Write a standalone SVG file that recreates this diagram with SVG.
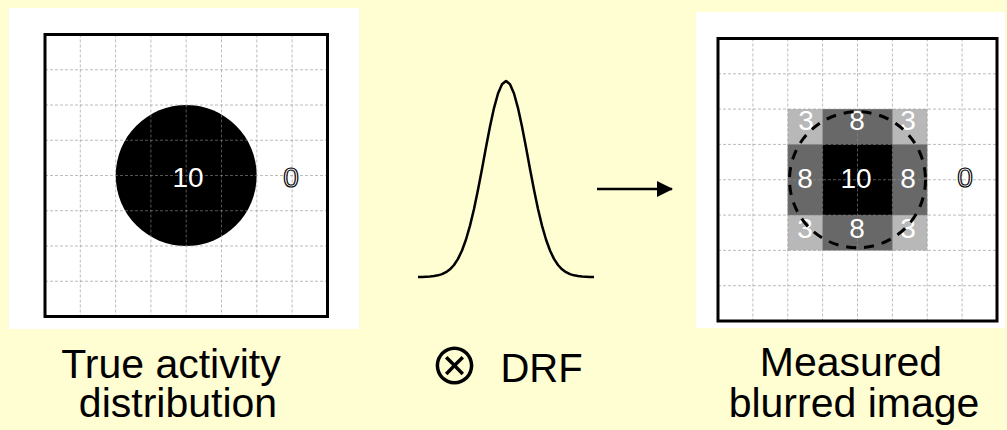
<svg xmlns="http://www.w3.org/2000/svg" width="1007" height="430" viewBox="0 0 1007 430">
<style>
.panel{fill:#ffffff}
.grid{fill:none;stroke:#8f8f8f;stroke-opacity:0.6;stroke-width:1;stroke-dasharray:3 2}
.frame{fill:none;stroke:#000;stroke-width:3}
.num{font-family:"Liberation Sans",Arial,sans-serif;font-size:28px;text-anchor:middle;fill:#fff}
.zero{font-family:"Liberation Sans",Arial,sans-serif;font-size:28px;text-anchor:middle;fill:#fff;stroke:#000;stroke-width:1.2}
.cap{font-family:"Liberation Sans",Arial,sans-serif;font-size:41px;text-anchor:middle;fill:#000}
</style>
<defs>
<marker id="ah" markerWidth="16" markerHeight="16" refX="15" refY="8" orient="auto" markerUnits="userSpaceOnUse">
<path d="M0,0 L16,8 L0,16 Z" fill="#000"/>
</marker>
</defs>
<rect width="1007" height="430" fill="#FFFDD2"/>

<g id="true-activity">
<rect class="panel" x="9" y="8" width="350" height="321"/>
<circle cx="186.2" cy="175.5" r="70.5" fill="#000"/>
<path class="grid" d="M80.3,34.5V316.5M115.6,34.5V316.5M150.9,34.5V316.5M186.2,34.5V316.5M221.5,34.5V316.5M256.8,34.5V316.5M292.1,34.5V316.5M45,69.75H327.5M45,105H327.5M45,140.25H327.5M45,175.5H327.5M45,210.75H327.5M45,246H327.5M45,281.25H327.5"/>
<rect class="frame" x="45" y="34.5" width="282.5" height="282"/>
<text class="num" x="188" y="187">10</text>
<text class="zero" x="291" y="187">0</text>
<text class="cap" x="171" y="378">True activity</text>
<text class="cap" x="178" y="417">distribution</text>
</g>

<g id="drf">
<path d="M418,277 L422,276.9 L426,276.7 L430,276.5 L434,276.1 L438,275.35 L442,274.15 L446,272.2 L450,269.3 L454,265 L458,258.9 L462,250.5 L466,239.5 L470,225.6 L474,209 L478,189.8 L482,168.9 L486,147.3 L490,126.6 L494,108.1 L498,93.5 L502,84.2 L506,81 L510,84.2 L514,93.5 L518,108.1 L522,126.6 L526,147.3 L530,168.9 L534,189.8 L538,209 L542,225.6 L546,239.5 L550,250.5 L554,258.9 L558,265 L562,269.3 L566,272.2 L570,274.15 L574,275.35 L578,276.1 L582,276.5 L586,276.7 L590,276.9 L594,277" fill="none" stroke="#000" stroke-width="2.5" stroke-linejoin="round"/>
<text x="454.5" y="385" font-family="'Noto Sans CJK JP',sans-serif" font-size="51" text-anchor="middle" fill="#000">⊗</text>
<text x="541.5" y="382" font-family="Liberation Sans,Arial,sans-serif" font-size="40" text-anchor="middle" fill="#000">DRF</text>
</g>

<g id="measured-image">
<rect class="panel" x="696" y="12" width="309" height="316"/>
<rect x="787.75" y="109.1" width="139.5" height="141.3" fill="#b8b8b8"/>
<rect x="822.6" y="109.1" width="69.8" height="141.3" fill="#686868"/>
<rect x="787.75" y="144.4" width="139.5" height="70.7" fill="#686868"/>
<rect x="822.6" y="144.4" width="69.8" height="70.7" fill="#000"/>
<path class="grid" d="M752.9,38.5V321M787.75,38.5V321M822.6,38.5V321M857.5,38.5V321M892.4,38.5V321M927.25,38.5V321M962.1,38.5V321M718,73.8H997M718,109.1H997M718,144.4H997M718,179.75H997M718,215.1H997M718,250.4H997M718,285.7H997"/>
<rect class="frame" x="718" y="38.5" width="279" height="282.5"/>
<text class="num" x="806" y="130">3</text>
<text class="num" x="857" y="130">8</text>
<text class="num" x="908" y="130">3</text>
<text class="num" x="805" y="188">8</text>
<text class="num" x="856" y="188">10</text>
<text class="num" x="908" y="188">8</text>
<text class="num" x="805" y="238">3</text>
<text class="num" x="857" y="238">8</text>
<text class="num" x="908" y="238">3</text>
<circle cx="857.5" cy="179.75" r="68" fill="none" stroke="#000" stroke-width="3" stroke-dasharray="10 8"/>
<text class="zero" x="965" y="187">0</text>
<text class="cap" x="851" y="376">Measured</text>
<text class="cap" x="854" y="417">blurred image</text>
</g>

<g id="connectors">
<line x1="597" y1="189" x2="672" y2="189" stroke="#000" stroke-width="2.5" marker-end="url(#ah)"/>
</g>
</svg>
